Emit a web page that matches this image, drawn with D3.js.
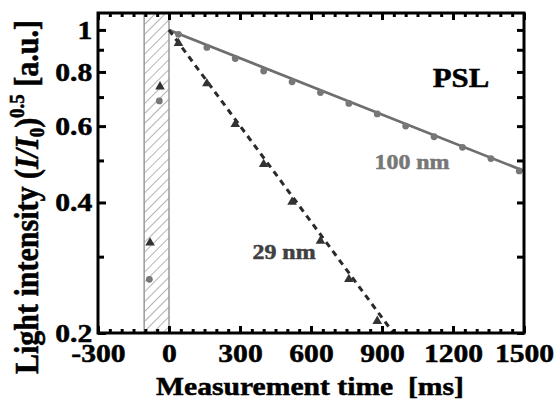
<!DOCTYPE html>
<html>
<head>
<meta charset="utf-8">
<script src="https://cdn.jsdelivr.net/npm/d3@7"></script>
<style>
  body { margin: 0; background: #fff; }
  svg { display: block; }
  .tick text { font-family: "Liberation Serif", "DejaVu Serif", serif; font-weight: bold; font-size: 26px; fill: #000; stroke: #000; stroke-width: 0.5px; }
</style>
</head>
<body>
<div id="chart"></div>
<script>
// measurement times [ms]
const times100 = [40, 160, 280, 400, 520, 640, 760, 880, 1000, 1120, 1240, 1360, 1480];
const values100 = [0.977, 0.911, 0.859, 0.804, 0.759, 0.717, 0.677, 0.640, 0.600, 0.567, 0.536, 0.505, 0.473];
const times29 = [40, 160, 280, 400, 520, 640, 760, 880];
const values29 = [0.932, 0.752, 0.606, 0.490, 0.401, 0.326, 0.266, 0.213];

// points taken before t = 0 (inside the hatched band)
const preTimes100 = [-41, -83];
const preValues100 = [0.686, 0.266];
const preTimes29 = [-38, -80];
const preValues29 = [0.740, 0.323];

// fitted decays
const fit100 = [[0, 1.0], [1500, 0.473]];
const fit29 = [[0, 1.0], [960, 0.196]];

const band = [-105, 0];

const xMajor = [-300, 0, 300, 600, 900, 1200, 1500];
const yMajor = [0.2, 0.4, 0.6, 0.8, 1];
const yMinor = [0.3, 0.5, 0.7, 0.9];

const W = 556, H = 405;
const pLeft = 98, pRight = 524, pTop = 13, pBottom = 333;
const stretch = 1.14; // text in the original is a bit wide

const svg = d3.select("#chart").append("svg")
    .attr("width", W)
    .attr("height", H);

const x = d3.scaleLinear().domain([-300, 1500]).range([pLeft, pRight]);
const y = d3.scaleLog().domain([0.2, 1.094]).range([pBottom, pTop]);

const defs = svg.append("defs");
defs.append("clipPath").attr("id", "clip")
    .append("rect")
    .attr("x", pLeft).attr("y", pTop)
    .attr("width", pRight - pLeft).attr("height", pBottom - pTop);

const pat = defs.append("pattern")
    .attr("id", "hatch")
    .attr("patternUnits", "userSpaceOnUse")
    .attr("width", 7).attr("height", 7)
    .attr("patternTransform", "rotate(45)");
pat.append("line")
    .attr("x1", 0).attr("y1", 0).attr("x2", 0).attr("y2", 7)
    .attr("stroke", "#6a6a6a").attr("stroke-width", 1);

const plot = svg.append("g").attr("clip-path", "url(#clip)");

// hatched band
plot.append("rect")
    .attr("x", x(band[0]))
    .attr("y", pTop)
    .attr("width", x(band[1]) - x(band[0]))
    .attr("height", pBottom - pTop)
    .attr("fill", "url(#hatch)")
    .attr("stroke", "#999")
    .attr("stroke-width", 1.5);

const line = d3.line().x(d => x(d[0])).y(d => y(d[1]));

plot.append("path")
    .datum(fit100)
    .attr("d", line)
    .attr("fill", "none")
    .attr("stroke", "#6e6e6e")
    .attr("stroke-width", 2.7);

plot.append("path")
    .datum(fit29)
    .attr("d", line)
    .attr("fill", "none")
    .attr("stroke", "#2a2a2a")
    .attr("stroke-width", 3)
    .attr("stroke-dasharray", "6,5");

// gray circles (100 nm)
const dots = times100.map((t, i) => [t, values100[i]])
    .concat(preTimes100.map((t, i) => [t, preValues100[i]]));
plot.selectAll(".dot")
    .data(dots)
    .join("circle")
    .attr("class", "dot")
    .attr("cx", d => x(d[0]))
    .attr("cy", d => y(d[1]))
    .attr("r", 3.4)
    .attr("fill", "#777");

// dark triangles (29 nm)
const tris = times29.map((t, i) => [t, values29[i]])
    .concat(preTimes29.map((t, i) => [t, preValues29[i]]));
const triangle = d3.symbol().type(d3.symbolTriangle).size(40);
plot.selectAll(".tri")
    .data(tris)
    .join("path")
    .attr("class", "tri")
    .attr("transform", d => `translate(${x(d[0])},${y(d[1])})`)
    .attr("d", triangle)
    .attr("fill", "#333");

// axes with inward ticks
function styleAxis(g) {
    g.select(".domain").remove();
    g.selectAll(".tick line").attr("stroke", "#000").attr("stroke-width", 3);
    g.selectAll(".tick text").attr("transform", `scale(${stretch},1)`);
}

const xMinor = d3.range(-300, 1501, 50).filter(v => !xMajor.includes(v));
const fmtX = d => String(d); // plain hyphen for negatives

svg.append("g")
    .attr("transform", `translate(0,${pBottom})`)
    .call(d3.axisBottom(x).tickValues(xMajor).tickSize(-7).tickPadding(11).tickFormat(fmtX))
    .call(styleAxis);
svg.append("g")
    .attr("transform", `translate(0,${pBottom})`)
    .call(d3.axisBottom(x).tickValues(xMinor).tickSize(-4).tickFormat(""))
    .call(styleAxis);
svg.append("g")
    .attr("transform", `translate(0,${pTop})`)
    .call(d3.axisTop(x).tickValues(xMajor).tickSize(-7).tickFormat(""))
    .call(styleAxis);
svg.append("g")
    .attr("transform", `translate(0,${pTop})`)
    .call(d3.axisTop(x).tickValues(xMinor).tickSize(-4).tickFormat(""))
    .call(styleAxis);

svg.append("g")
    .attr("transform", `translate(${pLeft},0)`)
    .call(d3.axisLeft(y).tickValues(yMajor).tickSize(-8).tickPadding(5).tickFormat(d => String(d)))
    .call(styleAxis);
svg.append("g")
    .attr("transform", `translate(${pLeft},0)`)
    .call(d3.axisLeft(y).tickValues(yMinor).tickSize(-6).tickFormat(""))
    .call(styleAxis);
svg.append("g")
    .attr("transform", `translate(${pRight},0)`)
    .call(d3.axisRight(y).tickValues(yMajor.concat(yMinor)).tickSize(-7).tickFormat(""))
    .call(styleAxis);

// frame
svg.append("rect")
    .attr("x", pLeft).attr("y", pTop)
    .attr("width", pRight - pLeft).attr("height", pBottom - pTop)
    .attr("fill", "none")
    .attr("stroke", "#000")
    .attr("stroke-width", 3);

const serif = "'Liberation Serif', 'DejaVu Serif', serif";

function label(cx, cy, size, color, str) {
    return svg.append("text")
        .attr("transform", `translate(${cx},${cy}) scale(${stretch},1)`)
        .attr("text-anchor", "middle")
        .attr("font-family", serif).attr("font-weight", "bold")
        .attr("font-size", size)
        .attr("fill", color)
        .attr("stroke", color)
        .attr("stroke-width", 0.5)
        .attr("xml:space", "preserve")
        .text(str);
}

// annotations
label(461, 87, 27, "#000", "PSL");
label(412, 169, 21, "#777", "100 nm");
label(284, 259, 21, "#404040", "29 nm");

// axis titles
label(310, 395, 26, "#000", "Measurement time  [ms]");

const yt = svg.append("text")
    .attr("transform", `translate(38,197) scale(${stretch},1) rotate(-90)`)
    .attr("text-anchor", "middle")
    .attr("font-family", serif).attr("font-weight", "bold").attr("font-size", 30)
    .attr("stroke", "#000").attr("stroke-width", 0.5);
yt.append("tspan").text("Light intensity (");
yt.append("tspan").attr("font-style", "italic").text("I/I");
yt.append("tspan").attr("font-size", 19).attr("dy", 5).text("0");
yt.append("tspan").attr("dy", -5).text(")");
yt.append("tspan").attr("font-size", 19).attr("dy", -12).text("0.5");
yt.append("tspan").attr("dy", 12).attr("xml:space", "preserve").text(" [a.u.]");
</script>
</body>
</html>
